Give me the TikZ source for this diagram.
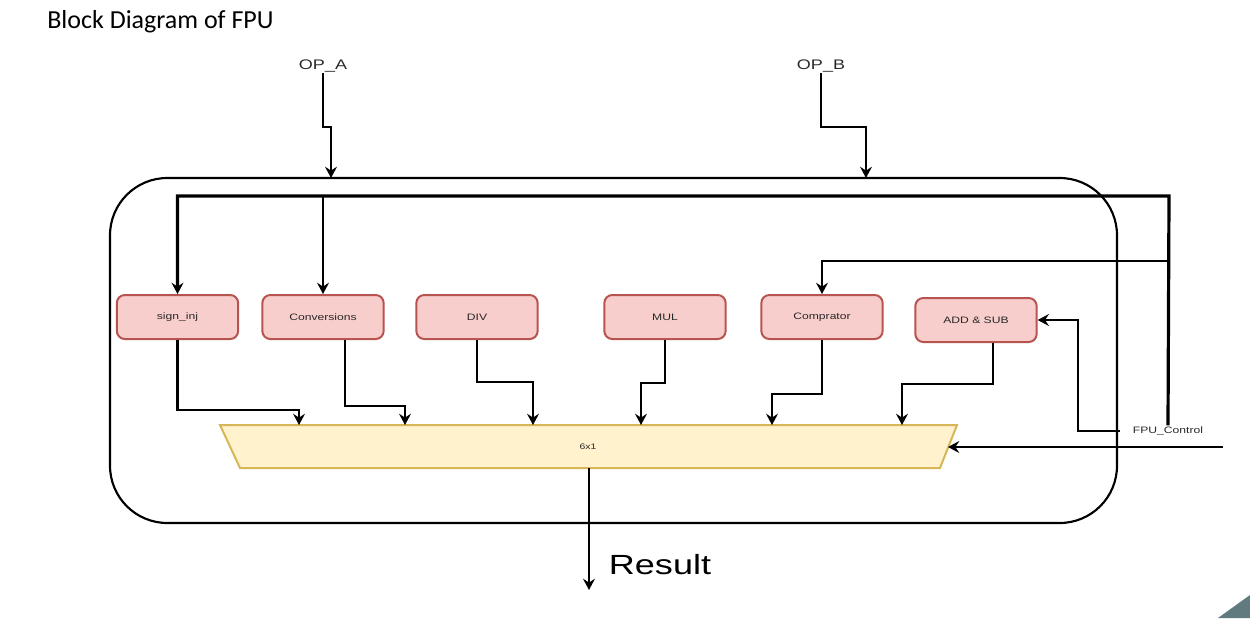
\documentclass[tikz,border=0pt]{standalone}
\usepackage{fontspec}
\setmainfont[FakeStretch=1.3]{Liberation Sans}
\newfontfamily\titlefont{Carlito}
\usetikzlibrary{arrows.meta}

\tikzset{
  unit/.style={draw={rgb,255:red,184;green,84;blue,80}, fill={rgb,255:red,248;green,206;blue,204}, line width=1.5pt, rounded corners=6pt, minimum width=91pt, minimum height=33pt, inner sep=0.75pt, font=\fontsize{7}{8}\selectfont, text={rgb,255:red,40;green,40;blue,40}},
  wire/.style={line width=1.8pt, -{Stealth[length=8.5pt,width=9pt,inset=3pt]}},
  bus/.style={line width=2.4pt},
  lbl/.style={inner sep=0.75pt, text={rgb,255:red,40;green,40;blue,40}},
}

\begin{document}
\begin{tikzpicture}[x=0.75pt,y=0.75pt,yscale=-1,xscale=1]
\useasboundingbox (0,0) rectangle (1250,618);

%Rounded Rect
\draw [line width=1.6pt, rounded corners=43pt] (110,178) rectangle (1117,523);
%Shape: Trapezoid
\draw [draw={rgb,255:red,214;green,182;blue,86}, fill={rgb,255:red,255;green,242;blue,204}, line width=1.5pt] (220,425) -- (957,425) -- (940,468) -- (240,468) -- cycle;
%Shape: Right Triangle
\fill [color={rgb,255:red,96;green,122;blue,128}] (1218,618) -- (1250,595) -- (1250,618) -- cycle;

% Text Node
\node [lbl, anchor=west, text=black, font=\titlefont\fontsize{19.5}{22}\selectfont] (title) at (46,22) {Block Diagram of FPU};
% Text Node
\node [lbl, font=\fontsize{10.4}{12}\selectfont] (opa) at (323,66) {OP\_A};
% Text Node
\node [lbl, font=\fontsize{10.4}{12}\selectfont] (opb) at (821,66) {OP\_B};
% Text Node
\node [lbl, font=\fontsize{7}{8}\selectfont] (ctl) at (1168,431) {FPU\_Control};
% Text Node
\node [lbl, font=\fontsize{6}{7}\selectfont] (mux) at (588,447) {6x1};
% Text Node
\node [lbl, text=black, font=\fontsize{20.8}{24}\selectfont] (res) at (660,565) {Result};

%Rounded Rect
\node [unit] (sgn) at (177.5,317) {sign\_inj};
\node [unit] (cnv) at (323,317) {Conversions};
\node [unit] (div) at (477,317) {DIV};
\node [unit] (mul) at (665,317) {MUL};
\node [unit] (cmp) at (822,317) {Comprator};
\node [unit] (add) at (976,320) {ADD \& SUB};

\coordinate (opa_in) at (331,178);
\coordinate (opb_in) at (866,178);
\coordinate (bus_r) at (1169,196);
\coordinate (cmp_tap) at (1169,261);
\coordinate (m1) at (299,425);
\coordinate (m2) at (405,425);
\coordinate (m3) at (533,425);
\coordinate (m4) at (641,425);
\coordinate (m5) at (772,425);
\coordinate (m6) at (902,425);
\coordinate (sel_in) at (1223,447);
\coordinate (sel) at (948,447);
\coordinate (mux_out) at (589,468);
\coordinate (res_out) at (589,590);

%Straight Lines
\draw [wire] (opa.south) -- (323,127) -| (opa_in);
\draw [wire] (opb.south) -- (821,127) -| (opb_in);
%Straight Lines
\draw [wire, bus] (ctl.north) -- (bus_r) -| (sgn.north);
\draw [wire] (cnv.north |- bus_r) -- (cnv.north);
\draw [wire] (cmp_tap) -| (cmp.north);
\draw [wire] ([xshift=-9pt]ctl.west) -- (1078,431) |- (add.east);
\draw [wire] (sel_in) -- (sel);
%Straight Lines
\draw [wire] (sgn.south) -- ++(0,70) -| (m1);
\draw [wire] ([xshift=16.5pt]cnv.south) -- ++(0,66) -| (m2);
\draw [wire] (div.south) -- ++(0,42) -| (m3);
\draw [wire] (mul.south) -- ++(0,43) -| (m4);
\draw [wire] (cmp.south) -- ++(0,54) -| (m5);
\draw [wire] ([xshift=12.75pt]add.south) -- ++(0,41) -| (m6);
\draw [wire] (mux_out) -- (res_out);

\end{tikzpicture}
\end{document}
